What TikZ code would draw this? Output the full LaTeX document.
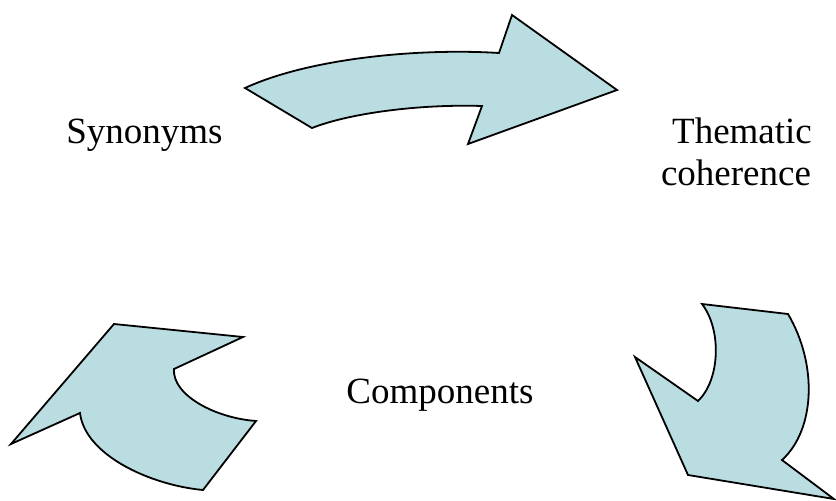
\documentclass[tikz,border=0pt]{standalone}
\usepackage{fontspec}
\setmainfont{Liberation Serif}
\definecolor{arrowfill}{RGB}{186,221,225}
\tikzset{
    flowarrow/.style={fill=arrowfill,draw=black,line width=1.8pt,line join=miter},
    label/.style={anchor=base,inner sep=0pt,font=\fontsize{37}{42}\selectfont}
}
\begin{document}
\begin{tikzpicture}[x=1pt,y=-1pt]
    \useasboundingbox (0,0) rectangle (836,501);
    % Labels
    \node[label] (syn) at (144.5,143) {Synonyms};
    \node[label] (them) at (742,143) {Thematic};
    \node[label] (coh) at (736,185) {coherence};
    \node[label] (comp) at (440,403) {Components};
    % Top arrow, pointing right
    \draw[flowarrow] (245,88) -- (312,128)
        .. controls (350,113) and (420,104) .. (482,106)
        -- (468,144) -- (617,90) -- (512,15) -- (499,53)
        .. controls (420,48) and (310,58) .. cycle;
    % Right arrow, pointing down
    \draw[flowarrow] (702,304) -- (788,314)
        .. controls (818,365) and (815,430) .. (782,460)
        -- (834,499) -- (688,475) -- (635,357) -- (698,401)
        .. controls (720,380) and (722,330) .. cycle;
    % Left arrow, pointing up
    \draw[flowarrow] (114,324) -- (243,337) -- (174,369)
        .. controls (172,395) and (215,418) .. (256,421)
        -- (203,490)
        .. controls (150,485) and (85,455) .. (80,413)
        -- (11,444) -- cycle;
\end{tikzpicture}
\end{document}
